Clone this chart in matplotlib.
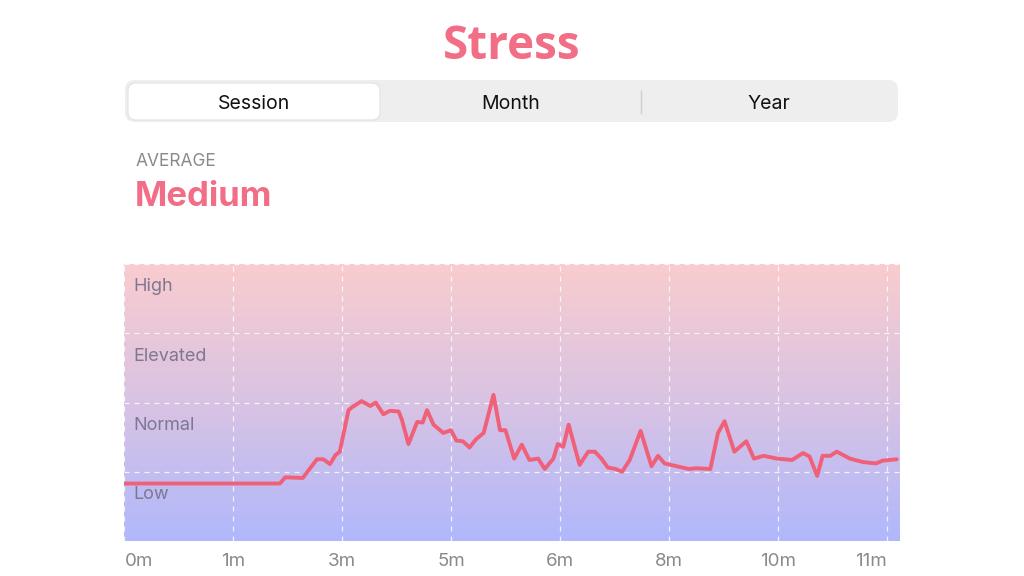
import numpy as np
import matplotlib
matplotlib.use("Agg")
import matplotlib.pyplot as plt
from matplotlib.patches import FancyBboxPatch
from matplotlib.colors import LinearSegmentedColormap
from matplotlib.transforms import blended_transform_factory

# ---- data ----
title = "Stress"
tabs = ["Session", "Month", "Year"]
avg_label = "AVERAGE"
avg_value = "Medium"
levels = ["Low", "Normal", "Elevated", "High"]
x_tick_labels = ["0m", "1m", "3m", "5m", "6m", "8m", "10m", "11m"]

t = [0.0, 1.34, 1.43, 1.48, 1.64, 1.77, 1.83, 1.89, 1.94, 1.98, 2.06, 2.10, 2.18,
     2.26, 2.31, 2.38, 2.44, 2.52, 2.55, 2.61, 2.69, 2.74, 2.78, 2.84, 2.93,
     3.00, 3.05, 3.11, 3.17, 3.23, 3.30, 3.39, 3.45, 3.50, 3.58, 3.65, 3.72,
     3.80, 3.86, 3.94, 3.98, 4.03, 4.08, 4.18, 4.26, 4.32, 4.38, 4.44, 4.51,
     4.57, 4.64, 4.74, 4.84, 4.90, 4.96, 5.07, 5.18, 5.25, 5.38, 5.45, 5.51,
     5.60, 5.71, 5.78, 5.87, 5.99, 6.13, 6.23, 6.29, 6.36, 6.41, 6.48, 6.54,
     6.66, 6.78, 6.90, 6.96, 7.09]
stress = [0.83, 0.83, 0.83, 0.92, 0.91, 1.18, 1.18, 1.11, 1.24, 1.29, 1.89, 1.94, 2.02,
          1.95, 2.00, 1.83, 1.88, 1.87, 1.75, 1.40, 1.72, 1.71, 1.89, 1.68, 1.56,
          1.60, 1.45, 1.44, 1.35, 1.47, 1.56, 2.11, 1.60, 1.60, 1.19, 1.39, 1.17,
          1.19, 1.04, 1.19, 1.40, 1.36, 1.68, 1.10, 1.29, 1.29, 1.19, 1.06, 1.04,
          1.00, 1.17, 1.59, 1.08, 1.23, 1.12, 1.08, 1.04, 1.05, 1.04, 1.56, 1.73,
          1.29, 1.44, 1.19, 1.23, 1.19, 1.17, 1.27, 1.22, 0.94, 1.23, 1.23, 1.29,
          1.19, 1.14, 1.12, 1.16, 1.18]

PINK = "#f26d86"
W, H = 1024, 576
fig = plt.figure(figsize=(W / 100, H / 100), dpi=100)
fig.patch.set_facecolor("white")

# overlay axes in pixel coords for UI elements
ui = fig.add_axes([0, 0, 1, 1])
ui.set_xlim(0, W)
ui.set_ylim(H, 0)
ui.axis("off")

ui.text(512, 41, title, ha="center", va="center_baseline", fontsize=33,
        fontweight="bold", color=PINK, family="Open Sans", fontstretch="condensed")

# segmented control
ui.add_patch(FancyBboxPatch((125, 80), 773, 42, boxstyle="round,pad=0,rounding_size=10",
                            fc="#eeeeef", ec="none"))
ui.add_patch(FancyBboxPatch((128, 83), 252, 37, boxstyle="round,pad=0,rounding_size=8",
                            fc="white", ec="#e2e2e4", lw=0.8))
ui.plot([641, 641], [91, 113], color="#cfcfd3", lw=1)
for xc, lab in zip([254, 511, 769], tabs):
    ui.text(xc, 102, lab, ha="center", va="center_baseline", fontsize=14,
            color="#111111", family="Inter")

ui.text(136, 159, avg_label, ha="left", va="center_baseline", fontsize=12.5,
        color="#8a8a8e", family="Inter")
ui.text(135, 194, avg_value, ha="left", va="center_baseline", fontsize=25,
        fontweight="bold", color=PINK, family="Inter")

# chart
ax = fig.add_axes([124 / W, 1 - 541 / H, (900 - 124) / W, (541 - 264) / H])
xmax = 7.12
ax.set_xlim(0, xmax)
ax.set_ylim(0, 4)
cmap = LinearSegmentedColormap.from_list("bg", ["#b0b8fc", "#d9c3e3", "#f9cccf"])
grad = np.linspace(0, 1, 256).reshape(-1, 1)
ax.imshow(grad, extent=[0, xmax, 0, 4], origin="lower", aspect="auto", cmap=cmap,
          zorder=0)

for i in range(len(x_tick_labels)):
    ax.axvline(i, color="white", lw=0.9, ls=(0, (4, 4)), alpha=0.8, zorder=1)
for j in range(1, 5):
    ax.axhline(j, color="white", lw=0.9, ls=(0, (4, 4)), alpha=0.8, zorder=1)

for j, lab in enumerate(levels):
    ax.text(0.09, j + 0.7, lab, ha="left", va="center_baseline", fontsize=13,
            color="#7d7892", family="Inter", zorder=2)

ax.plot(t, stress, color="#f06079", lw=2.8, solid_joinstyle="round",
        solid_capstyle="round", zorder=3)

# x labels (first left-aligned, last right-aligned, others centered on gridlines)
ax.set_xticks([])
ax.set_yticks([])
trans = blended_transform_factory(ax.transData, ax.transAxes)
n = len(x_tick_labels)
for i, lab in enumerate(x_tick_labels):
    ha = "left" if i == 0 else ("right" if i == n - 1 else "center")
    ax.text(i + (0.01 if i == 0 else 0), -0.065, lab, transform=trans, ha=ha,
            va="center_baseline", fontsize=13.5, color="#8a8a8e", family="Inter",
            clip_on=False)
for s in ax.spines.values():
    s.set_visible(False)

fig.savefig("out.png", dpi=100)
